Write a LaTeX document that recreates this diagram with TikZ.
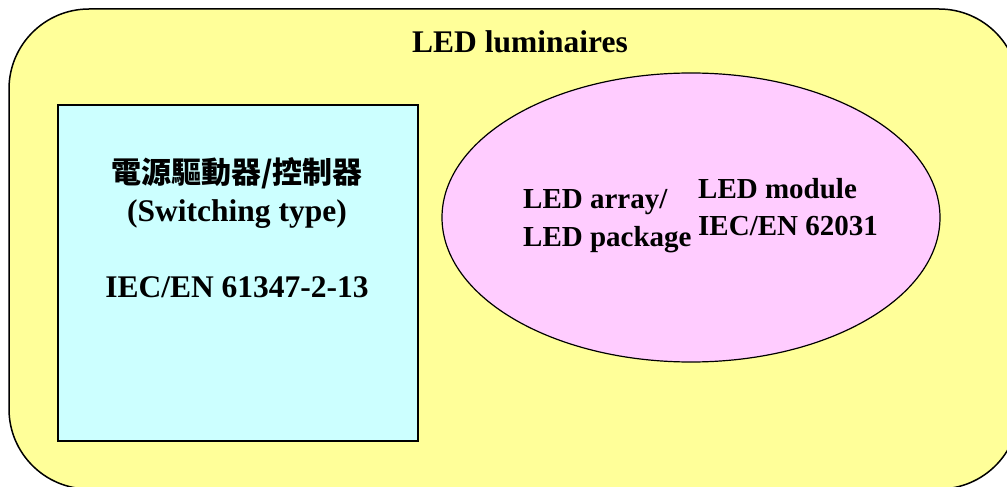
\documentclass[tikz,border=0pt]{standalone}
\usepackage{fontspec}
\setmainfont{Liberation Serif}
\newfontfamily\cjk{Noto Sans CJK TC}
\usetikzlibrary{shapes.geometric}
\definecolor{lumyellow}{HTML}{FFFF99}
\definecolor{drvcyan}{HTML}{CCFFFF}
\definecolor{modpink}{HTML}{FFCCFF}
\tikzset{
  txt/.style={inner sep=0pt, font=\fontsize{31.5}{36}\selectfont\bfseries},
  txtsmall/.style={inner sep=0pt, font=\fontsize{29}{34}\selectfont\bfseries},
  cjktxt/.style={inner sep=0pt, font=\fontsize{30}{36}\selectfont\cjk\bfseries},
  outline/.style={draw=black, line width=1.5pt}
}
\begin{document}
\begin{tikzpicture}[x=1pt,y=-1pt]
\useasboundingbox (0,0) rectangle (1007,487);
\begin{scope}
\clip (0,0) rectangle (1007,487);
\draw[outline, fill=lumyellow, rounded corners=80pt] (9,9) rectangle (1019,489);
\end{scope}
\node[outline, fill=drvcyan, minimum width=360pt, minimum height=336pt, inner sep=0pt, anchor=north west] (drv) at (57,104) {};
\node[outline, line width=1.2pt, fill=modpink, ellipse, minimum width=498pt, minimum height=289pt, inner sep=0pt] (mod) at (691,217.5) {};
\node[txt, anchor=base] (title) at (520,53) {LED luminaires};
\node[cjktxt, anchor=base] (drvcn) at (237,183) {電源驅動器/控制器};
\node[txt, anchor=base] (drvtype) at (237,221) {(Switching type)};
\node[txt, anchor=base] (drvstd) at (237,297) {IEC/EN 61347-2-13};
\node[txtsmall, anchor=base west] (arr1) at (523,208) {LED array/};
\node[txtsmall, anchor=base west] (arr2) at (523,246) {LED package};
\node[txtsmall, anchor=base west] (mod1) at (698,198) {LED module};
\node[txtsmall, anchor=base west] (mod2) at (698,235) {IEC/EN 62031};
\end{tikzpicture}
\end{document}
